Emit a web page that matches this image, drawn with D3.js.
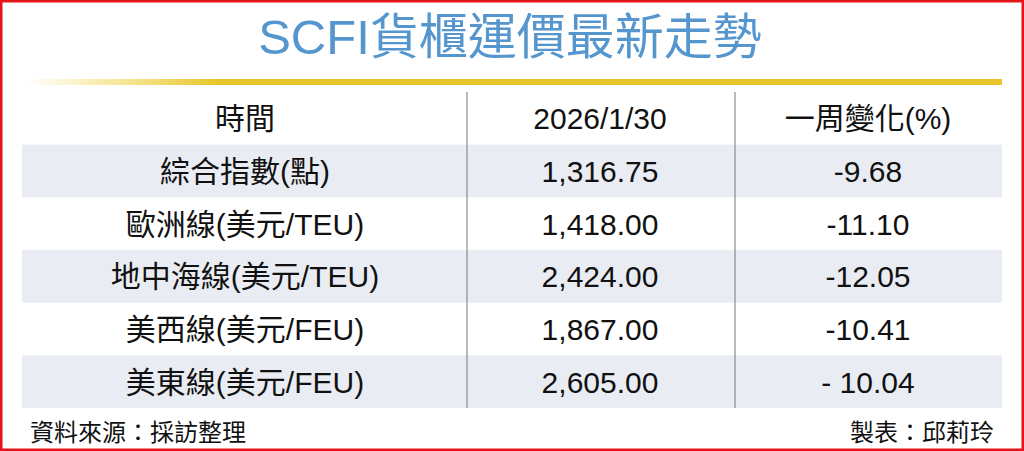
<!DOCTYPE html><html><head><meta charset="utf-8">
<script src="https://cdn.jsdelivr.net/npm/d3@7"></script>
<style>body{margin:0;background:#fff}</style></head><body>
<script>
const headers=["時間","2026/1/30","一周變化(%)"];
const categories=["綜合指數(點)","歐洲線(美元/TEU)","地中海線(美元/TEU)","美西線(美元/FEU)","美東線(美元/FEU)"];
const values=["1,316.75","1,418.00","2,424.00","1,867.00","2,605.00"];
const changes=["-9.68","-11.10","-12.05","-10.41","- 10.04"];
const title="SCFI貨櫃運價最新走勢";
const source="資料來源：採訪整理";
const author="製表：邱莉玲";

const W=1024,H=451,font="'Liberation Sans','Noto Sans CJK TC','Noto Sans CJK SC',sans-serif";
const svg=d3.select("body").append("svg").attr("width",W).attr("height",H);
const defs=svg.append("defs");
const g=defs.append("linearGradient").attr("id","gold");
g.append("stop").attr("offset","0").attr("stop-color","#f3d640").attr("stop-opacity",0);
g.append("stop").attr("offset","0.2").attr("stop-color","#e8c52a");
g.append("stop").attr("offset","1").attr("stop-color","#e8c52a");
svg.append("rect").attr("x",1).attr("y",1).attr("width",W-2).attr("height",H-2).attr("fill","none").attr("stroke","#e8141b").attr("stroke-width",3);
svg.append("text").attr("x",510).attr("y",54).attr("text-anchor","middle").attr("font-family",font).attr("font-size",49).attr("fill","#5596cf").text(title);
svg.append("rect").attr("x",22).attr("y",79).attr("width",980).attr("height",6).attr("fill","url(#gold)");
const y=d3.scaleBand().domain(d3.range(6)).range([92,408]);
const cols=[245,600,868];
const rows=[headers,...categories.map((c,i)=>[c,values[i],changes[i]])];
rows.forEach((r,i)=>{
  if(i%2===1) svg.append("rect").attr("x",22).attr("y",y(i)).attr("width",980).attr("height",y.bandwidth()).attr("fill","#e9edf3");
});
[467,735].forEach(x=>svg.append("line").attr("x1",x).attr("x2",x).attr("y1",92).attr("y2",408).attr("stroke","#777").attr("stroke-width",1));
rows.forEach((r,i)=>r.forEach((t,j)=>{
  svg.append("text").attr("x",cols[j]).attr("y",y(i)+y.bandwidth()/2+11).attr("text-anchor","middle")
   .attr("font-family",font).attr("font-size",30).attr("fill","#111").text(t);
}));
svg.append("text").attr("x",30).attr("y",441).attr("font-family",font).attr("font-size",24).attr("fill","#111").text(source);
svg.append("text").attr("x",994).attr("y",441).attr("text-anchor","end").attr("font-family",font).attr("font-size",24).attr("fill","#111").text(author);
</script></body></html>
